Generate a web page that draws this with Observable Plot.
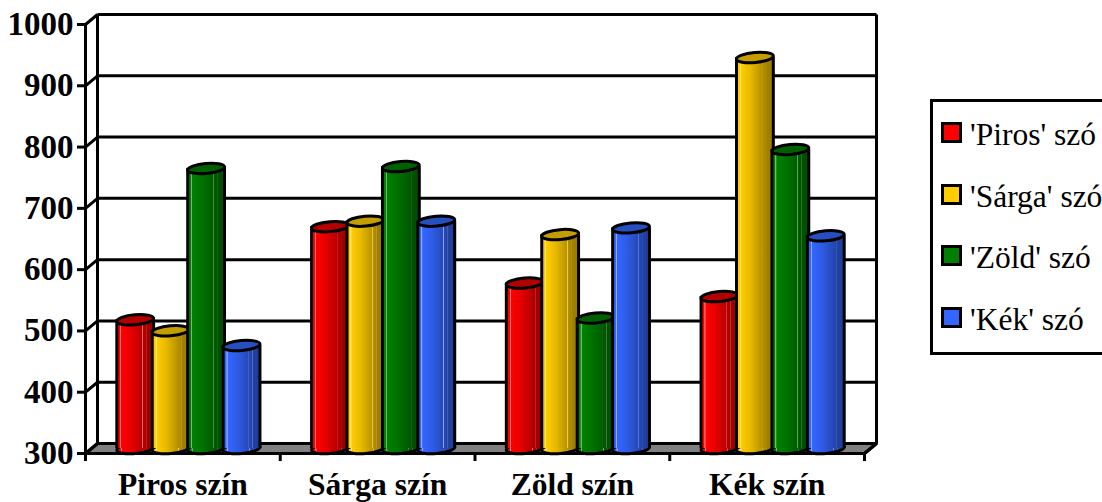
<!DOCTYPE html>
<html><head><meta charset="utf-8">
<script src="https://cdn.jsdelivr.net/npm/d3@7"></script>
<script src="https://cdn.jsdelivr.net/npm/@observablehq/plot@0.6"></script>
<style>
html,body{margin:0;padding:0;background:#fff;overflow:hidden}
#wrap{position:relative;width:1102px;height:502px;overflow:hidden}
#legend{position:absolute;left:930px;top:99px;width:200px;height:250px;border:3px solid #000;box-sizing:content-box;font:31.5px "Liberation Serif",serif;color:#000}
#legend .row{position:absolute;left:8px;white-space:nowrap;line-height:30px;height:30px}
#legend i{display:inline-block;position:absolute;left:0;top:0;width:15px;height:15px;border:3px solid #000}
#legend span{position:absolute;left:29px;top:-2px}
</style></head><body><div id="wrap"></div>
<script>
const categories = ["Piros szín","Sárga szín","Zöld szín","Kék szín"];
const seriesNames = ["'Piros' szó","'Sárga' szó","'Zöld' szó","'Kék' szó"];
const piros = [510,662,570,548];
const sarga = [492,671,649,938];
const zold  = [757,760,513,788];
const kek   = [468,671,660,647];
const yTicks = [300,400,500,600,700,800,900,1000];

const seriesValues = [piros,sarga,zold,kek];
const baseColors = ["#ff0000","#ffcc00","#008000","#3366ff"];
const darkColors = ["#990000","#997a00","#004d00","#1f3d99"];
const topColors  = ["#b30000","#c49d00","#006000","#2650c0"];

// depth of the 3-D box, in data units
const depthX = 0.0616, depthY = 16.3;
const barStep = 0.182, barStart = 0.13, barW = 0.189;

const ellipse = {draw(c,size){
  const r = Math.sqrt(size/Math.PI), ry = r*0.27, k=0.5523;
  c.moveTo(-r,0);
  c.bezierCurveTo(-r,-ry*k,-r*k,-ry,0,-ry);
  c.bezierCurveTo(r*k,-ry,r,-ry*k,r,0);
  c.bezierCurveTo(r,ry*k,r*k,ry,0,ry);
  c.bezierCurveTo(-r*k,ry,-r,ry*k,-r,0);
  c.closePath();
}};

function defs(){
  const d = d3.create("svg:defs");
  baseColors.forEach((c,i)=>{
    const g = d.append("linearGradient").attr("id","cyl"+i);
    const mix = d3.interpolateRgb(c,darkColors[i]);
    const light = d3.interpolateRgb(c,"#ffffff")(0.45);
    [[0,mix(0.05)],[.06,c],[.1,c],[.11,light],[.13,light],[.14,c],[.4,mix(.25)],[.7,mix(.7)],[.71,light],[.72,mix(.7)],[.8,mix(.85)],[.81,d3.interpolateRgb(darkColors[i],"#fff")(.25)],[.83,mix(.9)],[1,mix(1)]]
      .forEach(([o,col])=>g.append("stop").attr("offset",o).attr("stop-color",col));
  });
  return d.node();
}

const lineOpts = {stroke:"#000",strokeWidth:3};
const marks = [
  defs,
  // floor
  Plot.line([[0,300],[depthX,300+depthY],[4+depthX,300+depthY],[4,300],[0,300]],{fill:"#808080",...lineOpts}),
  // back wall grid
  Plot.link(yTicks,{x1:depthX,x2:4+depthX,y1:v=>v+depthY,y2:v=>v+depthY,...lineOpts}),
  // left wall depth lines
  Plot.link(yTicks,{x1:0,x2:depthX,y1:v=>v,y2:v=>v+depthY,...lineOpts}),
  // verticals
  Plot.link([depthX,4+depthX],{x1:v=>v,x2:v=>v,y1:300+depthY,y2:1000+depthY,...lineOpts}),
  // right floor edge
  Plot.link([0],{x1:4,x2:4+depthX,y1:300,y2:300+depthY,...lineOpts}),
  // front y axis
  Plot.axisY({ticks:yTicks,tickSize:8,tickPadding:4,tickFormat:d=>String(d),fontSize:33,fontWeight:"bold",strokeWidth:3,stroke:"#000",fill:"#000",label:null,marginLeft:85}),
  Plot.ruleX([0],{y1:300,y2:1000,...lineOpts}),
  Plot.ruleY([300],{x1:0,x2:4,...lineOpts}),
  // x axis
  Plot.axisX({ticks:[0,1,2,3,4],tickSize:8,tickFormat:()=>"",strokeWidth:3,stroke:"#000",label:null}),
  Plot.axisX({ticks:[.5,1.5,2.5,3.5],tickSize:0,tickPadding:19,tickFormat:v=>categories[Math.floor(v)],fontSize:31.5,fontWeight:"bold",fill:"#000",label:null}),
];

seriesValues.forEach((vals,s)=>{
  const rows = vals.map((v,i)=>({v,l:i+barStart+s*barStep,r:i+barStart+s*barStep+barW,c:i+barStart+s*barStep+barW/2}));
  const off = {dx:6,dy:-5};
  const R = 18.5;
  marks.push(
    Plot.dot(rows,{x:"c",y:()=>300,r:R,symbol:ellipse,rotate:-5,fill:`url(#cyl${s})`,stroke:"#000",strokeWidth:3,...off}),
    Plot.rect(rows,{x1:"l",x2:"r",y1:()=>300,y2:"v",fill:`url(#cyl${s})`,...off}),
    Plot.ruleX(rows,{x:"l",y1:()=>300,y2:"v",...lineOpts,...off}),
    Plot.ruleX(rows,{x:"r",y1:()=>300,y2:"v",...lineOpts,...off}),
    Plot.dot(rows,{x:"c",y:"v",r:R,symbol:ellipse,rotate:-5,fill:topColors[s],stroke:"#000",strokeWidth:3,...off})
  );
});

const chart = Plot.plot({
  width:1102,height:502,
  marginLeft:85,marginRight:238,marginTop:24,marginBottom:49,
  x:{domain:[0,4],axis:null},
  y:{domain:[300,1000]},
  style:{fontFamily:'"Liberation Serif",serif',background:"transparent",color:"#000",overflow:"visible"},
  marks
});
const wrap = document.getElementById("wrap");
wrap.appendChild(chart);

const legend = document.createElement("div");
legend.id = "legend";
[119,181,242,304].forEach((top,i)=>{
  const row = document.createElement("div");
  row.className = "row";
  row.style.top = (top-102+3)+"px";
  row.innerHTML = `<i style="background:${baseColors[i]}"></i><span>${seriesNames[i]}</span>`;
  legend.appendChild(row);
});
wrap.appendChild(legend);
</script></body></html>
